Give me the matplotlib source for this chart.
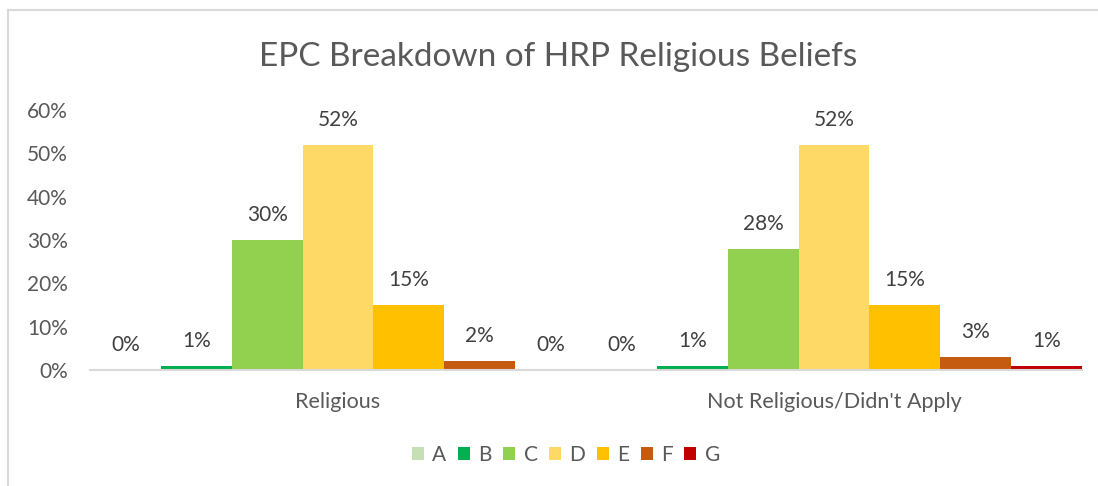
import numpy as np
import matplotlib.pyplot as plt
from matplotlib.lines import Line2D

# Datos
grupos = ["Religious", "Not Religious/Didn't Apply"]
series = ["A", "B", "C", "D", "E", "F", "G"]
religious = [0.00, 0.01, 0.30, 0.52, 0.15, 0.02, 0.00]
not_religious = [0.00, 0.01, 0.28, 0.52, 0.15, 0.03, 0.01]
colores = ["#C6E0B4", "#00B050", "#92D050", "#FFD966", "#FFC000", "#C55A11", "#C00000"]

plt.rcParams['font.family'] = ['Lato', 'DejaVu Sans']

W, H = 1098, 486
fig = plt.figure(figsize=(W / 100, H / 100), dpi=100)
ax = fig.add_axes([90 / W, (H - 370) / H, (1082 - 90) / W, 260 / H])

valores = np.array([religious, not_religious])
x = np.arange(len(grupos))
ancho = 1 / len(series)

for i, s in enumerate(series):
    pos = x + (i - 3) * ancho
    ax.bar(pos, valores[:, i], width=ancho, color=colores[i], label=s)
    for xb, v in zip(pos, valores[:, i]):
        ax.annotate(f"{v:.0%}", (xb, v), xytext=(0, 18), textcoords='offset points',
                    ha='center', va='center', fontsize=15, color='#404040')

ax.set_xlim(-0.5, 1.5)
ax.set_ylim(0, 0.6)
ax.set_yticks(np.arange(0, 0.61, 0.1))
ax.set_yticklabels([f"{t:.0%}" for t in np.arange(0, 0.61, 0.1)])
ax.set_xticks(x)
ax.set_xticklabels(grupos)
ax.tick_params(axis='both', length=0, labelsize=15, labelcolor='#595959')
ax.tick_params(axis='x', pad=16, labelsize=15.5)
ax.tick_params(axis='y', pad=16)

for lado in ['top', 'right', 'left']:
    ax.spines[lado].set_visible(False)
ax.spines['bottom'].set_color('#D9D9D9')
ax.spines['bottom'].set_linewidth(1.5)

fig.text(558 / W, 1 - 57 / H, "EPC Breakdown of HRP Religious Beliefs",
         ha='center', va='center', fontsize=24, color='#595959')

fig.legend(loc='center', bbox_to_anchor=(566 / W, 1 - 455 / H), ncol=7, frameon=False,
           fontsize=15, labelcolor='#595959', handlelength=0.58, handleheight=0.58,
           handletextpad=0.4, columnspacing=0.55)

# Borde del área del gráfico
fig.add_artist(Line2D([8 / W, 1], [1 - 10 / H, 1 - 10 / H], color='#D9D9D9', lw=1.5))
fig.add_artist(Line2D([8 / W, 8 / W], [0, 1 - 10 / H], color='#D9D9D9', lw=1.5))

fig.savefig("out.png", dpi=100)
